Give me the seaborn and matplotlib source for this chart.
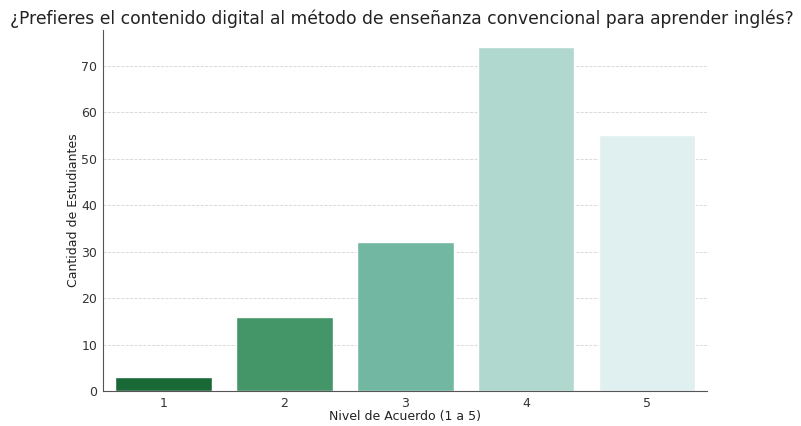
import pandas as pd
import seaborn as sns
import matplotlib.pyplot as plt

# Survey answers, agreement level 1..5
niveles = ['1', '2', '3', '4', '5']
estudiantes = [3, 16, 32, 74, 55]

df = pd.DataFrame({'Nivel': niveles, 'Cantidad': estudiantes})

sns.set_style('white')
plt.rcParams['font.family'] = ['DejaVu Sans']

fig, ax = plt.subplots(figsize=(8.01, 4.26), dpi=100)
sns.barplot(data=df, x='Nivel', y='Cantidad', hue='Nivel',
            palette='BuGn_r', legend=False, ax=ax)

fig.suptitle('¿Prefieres el contenido digital al método de enseñanza convencional para aprender inglés?',
             fontsize=12.35, color='#222222', x=0.502, y=0.978, va='top')
ax.set_xlabel('Nivel de Acuerdo (1 a 5)', fontsize=9, color='#222222', labelpad=0)
ax.set_ylabel('Cantidad de Estudiantes', fontsize=9, color='#222222', labelpad=1)
ax.tick_params(axis='both', labelsize=9, colors='#333333', length=3, pad=1.5)
ax.yaxis.grid(True, linestyle='--', color='#d5d5d5', linewidth=0.6)
ax.set_axisbelow(True)
sns.despine(ax=ax)
for s in ['left', 'bottom']:
    ax.spines[s].set_color('#555555')

fig.subplots_adjust(left=0.129, right=0.883, top=0.93, bottom=0.082)
fig.savefig('out.png', dpi=100)
